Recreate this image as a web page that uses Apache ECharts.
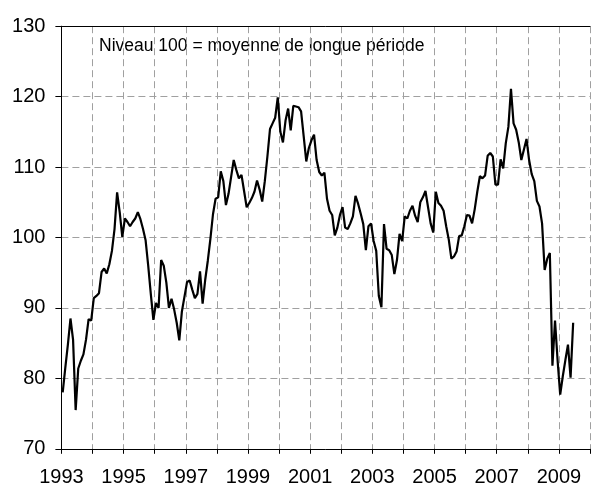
<!DOCTYPE html>
<html><head><meta charset="utf-8">
<script src="https://cdn.jsdelivr.net/npm/echarts@6/dist/echarts.min.js"></script>
<style>html,body{margin:0;padding:0;background:#fff}#c{width:593px;height:489px}</style>
</head><body><div id="c"></div>
<script>
// Monthly index values, Jan 1993 .. Jun 2009
const startYear = 1993;
const v1993 = [78, 81.5, 84.8, 88.5, 85.5, 75.5, 81.4, 82.5, 83.4, 85.5, 88.4, 88.2];
const v1994 = [91.4, 91.7, 92.1, 95.1, 95.6, 94.9, 96.2, 98.1, 101.2, 106.4, 103.6, 100.1];
const v1995 = [102.7, 102.2, 101.6, 102.2, 102.7, 103.6, 102.6, 101.2, 99.6, 96, 92, 88.3];
const v1996 = [90.7, 90, 96.8, 96, 93.6, 90, 91.3, 89.8, 87.9, 85.4, 89.5, 91.6];
const v1997 = [93.7, 93.9, 92.6, 91.4, 92, 95.2, 90.6, 94, 96.7, 99.8, 103.3, 105.5];
const v1998 = [105.7, 109.4, 108, 104.6, 106.2, 108.6, 111, 109.6, 108.4, 108.9, 106.6, 104.3];
const v1999 = [104.9, 105.6, 106.5, 108.1, 106.8, 105.1, 108, 111.5, 115.4, 116.2, 117, 119.9];
const v2000 = [115, 113.5, 116.6, 118.3, 115.2, 118.7, 118.6, 118.5, 117.9, 114.4, 110.8, 112.7];
const v2001 = [113.8, 114.6, 111, 109.3, 108.8, 109.2, 105.5, 103.8, 103.2, 100.3, 101.4, 103.2];
const v2002 = [104.3, 101.4, 101.2, 102, 103, 105.9, 104.8, 103.4, 101.9, 98.2, 101.6, 102];
const v2003 = [99.5, 98.1, 91.7, 90.1, 101.9, 98.4, 98.2, 97.5, 94.8, 96.8, 100.5, 99.5];
const v2004 = [103, 102.7, 103.8, 104.5, 103.1, 102.2, 105, 105.7, 106.6, 104.3, 102, 100.7];
const v2005 = [106.5, 104.9, 104.5, 103.8, 101.6, 99.7, 97, 97.3, 98, 100.2, 100.3, 101.6];
const v2006 = [103.2, 103.1, 102, 104, 106.5, 108.7, 108.4, 108.8, 111.6, 112, 111.5, 107.5];
const v2007 = [107.5, 111.1, 109.8, 113.4, 115.7, 121.1, 116.2, 115.3, 113.5, 111, 112.5, 114];
const v2008 = [111, 109, 108, 105.2, 104.4, 102, 95.4, 97, 97.8, 81.8, 88.2, 82.5];
const v2009 = [77.7, 80.3, 82.6, 84.8, 80.1, 87.9];

const xTickLabels = ['1993', '1995', '1997', '1999', '2001', '2003', '2005', '2007', '2009'];
const yTickLabels = ['70', '80', '90', '100', '110', '120', '130'];
const note = 'Niveau 100 = moyenne de longue période';

const yearly = [v1993, v1994, v1995, v1996, v1997, v1998, v1999, v2000, v2001, v2002, v2003, v2004, v2005, v2006, v2007, v2008, v2009];
const data = [];
yearly.forEach((arr, y) => arr.forEach((v, m) => data.push([startYear + y + (m + 0.5) / 12, v])));

const FONT = "'Liberation Sans', Arial, sans-serif";
const chart = echarts.init(document.getElementById('c'), null, {renderer: 'canvas'});
chart.setOption({
  animation: false,
  backgroundColor: '#ffffff',
  grid: {left: 61.4, right: -2, top: 26.2, bottom: 40.2, containLabel: false},
  xAxis: [{
    type: 'value', min: 1993, max: 2010, interval: 1,
    axisLine: {show: true, lineStyle: {color: '#000', width: 1}},
    axisTick: {show: true, length: 5, lineStyle: {color: '#000'}},
    axisLabel: {
      margin: 19, fontSize: 20, color: '#000', fontFamily: FONT,
      formatter: v => { const s = String(Math.round(v)); return xTickLabels.includes(s) ? s : ''; }
    },
    splitLine: {show: true, lineStyle: {color: '#a0a0a0', type: [7, 4], width: 1}}
  }, {
    type: 'value', min: 1993, max: 2010, position: 'top',
    axisLine: {show: true, onZero: false, lineStyle: {color: '#000', width: 1}},
    axisTick: {show: false}, axisLabel: {show: false}, splitLine: {show: false}
  }],
  yAxis: {
    type: 'value', min: 70, max: 130, interval: 10,
    axisLine: {show: true, lineStyle: {color: '#000', width: 1}},
    axisTick: {show: true, length: 6, lineStyle: {color: '#000'}},
    axisLabel: {
      margin: 16, fontSize: 20, color: '#000', fontFamily: FONT,
      formatter: v => { const s = String(Math.round(v)); return yTickLabels.includes(s) ? s : ''; }
    },
    splitLine: {show: true, lineStyle: {color: '#a0a0a0', type: [7, 4], width: 1}}
  },
  graphic: [{
    type: 'text', left: 99, top: 37,
    style: {text: note, fontSize: 17.5, fontFamily: FONT, fill: '#000'}
  }],
  series: [{
    type: 'line', xAxisIndex: 0, data: data, showSymbol: false, symbol: 'none',
    lineStyle: {color: '#000', width: 2.2}, z: 5
  }]
});
</script></body></html>
